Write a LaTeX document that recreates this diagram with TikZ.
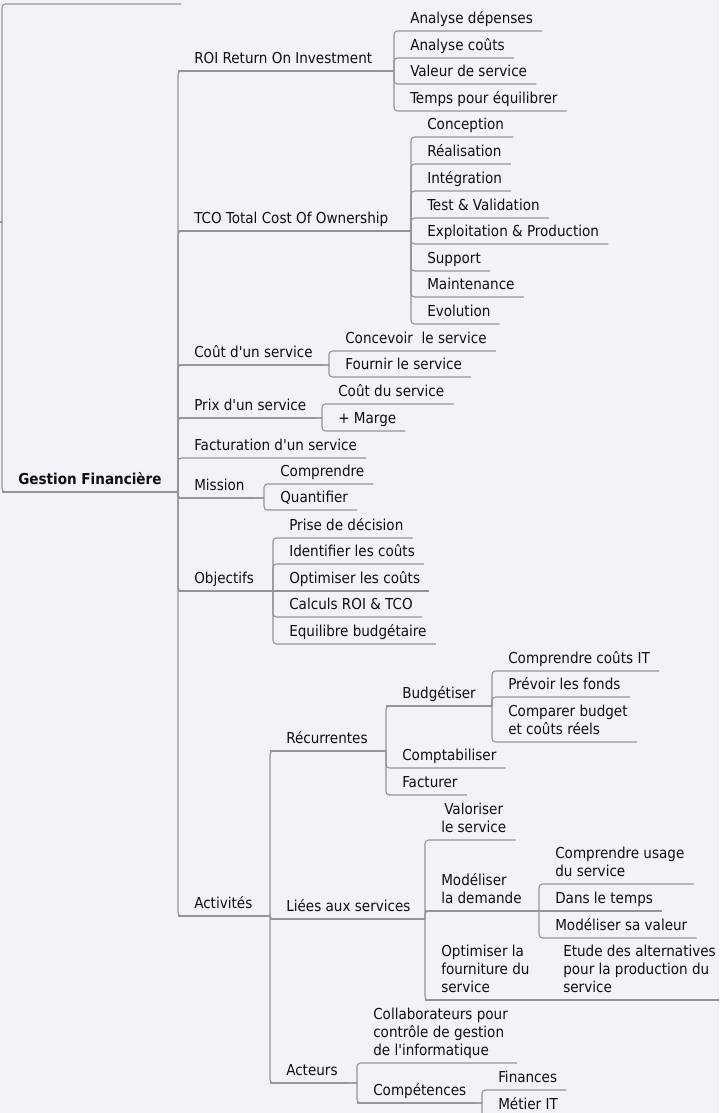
\documentclass[tikz,border=0pt]{standalone}
\usepackage{fontspec}
\setmainfont{DejaVu Sans Condensed}
\definecolor{bgc}{RGB}{242,243,248}
\definecolor{linec}{RGB}{148,148,150}
\definecolor{txt}{RGB}{15,15,15}
\newcommand{\ap}{\textquotesingle}

\begin{document}
\begin{tikzpicture}[x=0.75pt,y=-0.75pt,
  topic/.style={anchor=south west,inner xsep=0pt,inner ysep=1.1pt,text=txt,
    font=\fontsize{11.3}{13.7}\selectfont,execute at end node=\strut},
  root/.style={topic,font=\fontsize{11.3}{13.7}\selectfont\bfseries},
  link/.style={draw=linec,line width=0.8pt,rounded corners=2.6pt},
  branch/.style={every edge/.style={link},
    to path={([xshift=-12pt]\tikztostart.south west) -- ([xshift=-12pt]\tikztotarget.south west |- \tikztostart.south)
      ([xshift=-12pt]\tikztotarget.south west |- \tikztostart.south) |- ([xshift=6.75pt]\tikztotarget.south east)}},
  flat/.style={to path={([xshift=-12pt]\tikztostart.south west) -- ([xshift=6.75pt]\tikztotarget.south east)}}]
  \path[use as bounding box] (0,0) rectangle (719,1113);
  \fill[bgc] (0,0) rectangle (719,1113);
  \clip (0,0) rectangle (719,1113);

  % root
  \node[root] (gf) at (18,492) {Gestion Financière};
  \coordinate (prev) at (181,4);
  \coordinate (hub) at (0,222);

  % first level
  \node[topic] (roi)     at (194,71)  {ROI Return On Investment};
  \node[topic] (tco)     at (194,231) {TCO Total Cost Of Ownership};
  \node[topic] (cout)    at (194,365) {Coût d\ap un service};
  \node[topic] (prix)    at (194,418) {Prix d\ap un service};
  \node[topic] (fact)    at (194,458) {Facturation d\ap un service};
  \node[topic] (mission) at (194,498) {Mission};
  \node[topic] (obj)     at (194,591) {Objectifs};
  \node[topic] (act)     at (194,916) {Activités};

  % ROI
  \node[topic] (ad)  at (410,31)  {Analyse dépenses};
  \node[topic] (ac)  at (410,58)  {Analyse coûts};
  \node[topic] (vs)  at (410,84)  {Valeur de service};
  \node[topic] (tpe) at (410,111) {Temps pour équilibrer};

  % TCO
  \node[topic] (conc)  at (427,137) {Conception};
  \node[topic] (real)  at (427,164) {Réalisation};
  \node[topic] (integ) at (427,191) {Intégration};
  \node[topic] (test)  at (427,218) {Test \& Validation};
  \node[topic] (expl)  at (427,244) {Exploitation \& Production};
  \node[topic] (supp)  at (427,271) {Support};
  \node[topic] (maint) at (427,297) {Maintenance};
  \node[topic] (evol)  at (427,324) {Evolution};

  % cout, prix, mission
  \node[topic] (concv) at (345,351) {Concevoir~ le service};
  \node[topic] (fourn) at (345,377) {Fournir le service};
  \node[topic] (cds)   at (338,404) {Coût du service};
  \node[topic] (marge) at (338,431) {+ Marge};
  \node[topic] (compr) at (280,484) {Comprendre};
  \node[topic] (quant) at (280,510) {Quantifier};

  % objectifs
  \node[topic] (prise) at (289,538) {Prise de décision};
  \node[topic] (ident) at (289,564) {Identifier les coûts};
  \node[topic] (optim) at (289,591) {Optimiser les coûts};
  \node[topic] (calc)  at (289,617) {Calculs ROI \& TCO};
  \node[topic] (equil) at (289,644) {Equilibre budgétaire};

  % activites
  \node[topic] (recur)   at (286,751)  {Récurrentes};
  \node[topic] (liees)   at (286,919)  {Liées aux services};
  \node[topic] (acteurs) at (286,1083) {Acteurs};

  \node[topic] (budg)  at (402,706) {Budgétiser};
  \node[topic] (compt) at (402,768) {Comptabiliser};
  \node[topic] (factu) at (402,795) {Facturer};
  \node[topic] (cit)   at (508,671) {Comprendre coûts IT};
  \node[topic] (prev2) at (508,697) {Prévoir les fonds};
  \node[topic,align=left] (comp) at (508,742) {Comparer budget\\et coûts réels};

  \node[topic,align=center] (valo)  at (441,840)  {Valoriser\\le service};
  \node[topic,align=left]   (model) at (441,911)  {Modéliser\\la demande};
  \node[topic,align=left]   (optf)  at (441,1000) {Optimiser la\\fourniture du\\service};
  \node[topic,align=left]   (cus)   at (555,884)  {Comprendre usage\\du service};
  \node[topic] (temps) at (555,911) {Dans le temps};
  \node[topic] (msv)   at (555,938) {Modéliser sa valeur};
  \node[topic,align=left] (etude) at (563,1000) {Etude des alternatives\\pour la production du\\service};

  \node[topic,align=left] (collab) at (373,1063) {Collaborateurs pour\\contrôle de gestion\\de l\ap informatique};
  \node[topic] (compet) at (373,1103) {Compétences};
  \node[topic] (fin)    at (498,1090) {Finances};
  \node[topic] (metier) at (498,1117) {Métier IT};

  % connectors
  \draw[link] (prev) -| ([xshift=-12pt]gf.south west) -- (gf.south west);
  \draw[link] (hub) -- ([xshift=-12pt]gf.south west |- hub);
  \path[branch] (gf) edge (roi) edge (tco) edge (cout) edge (prix) edge (fact)
    edge (mission) edge (obj) edge (act);
  \path[branch] (roi) edge (ad) edge (ac) edge (vs) edge (tpe);
  \path[branch] (tco) edge (conc) edge (real) edge (integ) edge (test) edge (expl)
    edge (supp) edge (maint) edge (evol);
  \path[branch] (cout) edge (concv) edge (fourn);
  \path[branch] (prix) edge (cds) edge (marge);
  \path[branch] (mission) edge (compr) edge (quant);
  \path[branch] (obj) edge (prise) edge (ident) edge[flat] (optim) edge (calc) edge (equil);
  \path[branch] (act) edge (recur) edge (liees) edge (acteurs);
  \path[branch] (recur) edge (budg) edge (compt) edge (factu);
  \path[branch] (budg) edge (cit) edge (prev2) edge (comp);
  \path[branch] (liees) edge (valo) edge (model) edge (optf);
  \path[branch] (model) edge (cus) edge[flat] (temps) edge (msv);
  \path[branch] (optf) edge[flat] (etude);
  \path[branch] (acteurs) edge (collab) edge (compet);
  \path[branch] (compet) edge (fin) edge (metier);
\end{tikzpicture}
\end{document}
